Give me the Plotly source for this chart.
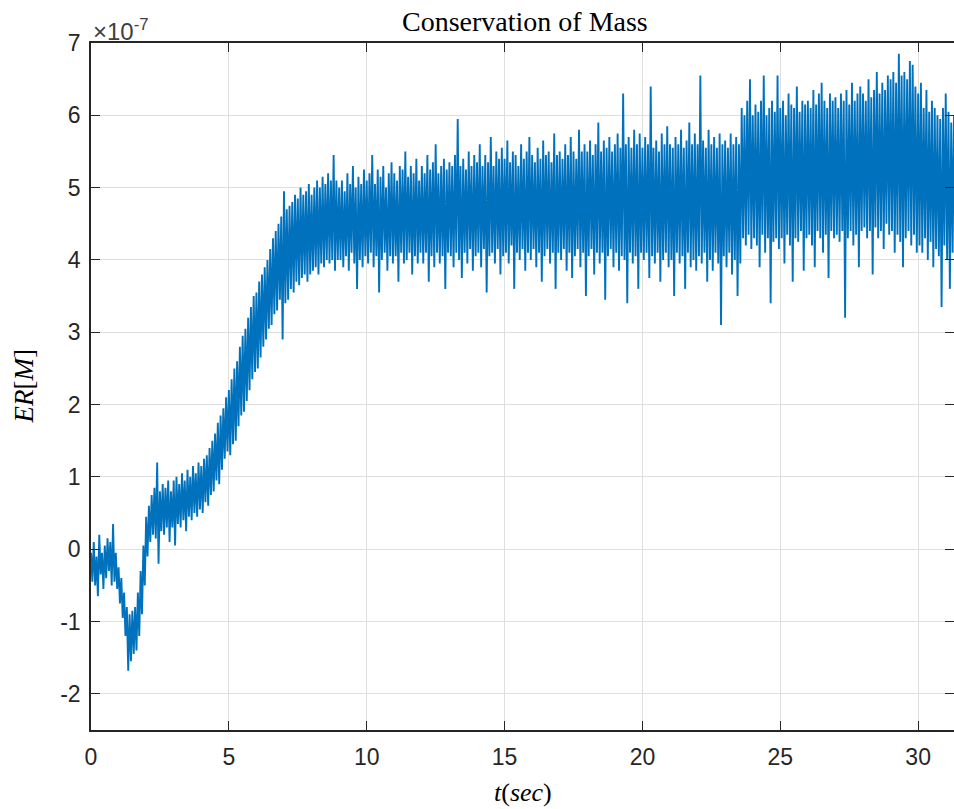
import numpy as np
import plotly.graph_objects as go

# Sample spacing of the recorded signal (seconds)
dt = 0.05

# ER[M] values in units of 1e-7, one list per second
er_s00 = [-0.05, -0.45, 0.1, -0.5, -0.1, -0.65, 0.2, -0.35, -0.05, -0.55, 0.05, -0.4, 0.15, -0.3, 0.1, -0.5, 0.35, -0.45, -0.05, -0.55]
er_s01 = [-0.25, -0.75, -0.4, -0.95, -0.6, -1.2, -0.8, -1.68, -0.9, -1.55, -0.85, -1.45, -0.8, -1.4, -0.6, -1.2, -0.3, -0.9, 0.05, -0.5]
er_s02 = [0.45, -0.1, 0.6, 0.1, 0.75, 0.2, 0.85, 0.15, 1.2, -0.2, 0.8, 0.25, 0.9, 0.2, 0.85, 0.3, 0.95, 0.1, 0.8, 0.3]
er_s03 = [0.95, 0.05, 1.0, 0.35, 0.9, 0.3, 1.05, 0.4, 0.95, 0.25, 1.1, 0.45, 1.0, 0.4, 1.15, 0.5, 1.05, 0.45, 1.2, 0.55]
er_s04 = [1.15, 0.5, 1.25, 0.65, 1.3, 0.6, 1.4, 0.75, 1.5, 0.8, 1.6, 0.95, 1.75, 0.9, 1.85, 1.1, 1.95, 1.25, 2.1, 1.35]
er_s05 = [2.2, 1.3, 2.35, 1.45, 2.5, 1.5, 2.6, 1.7, 2.8, 1.85, 2.95, 1.9, 3.05, 2.05, 3.2, 2.2, 3.35, 2.35, 3.5, 2.45]
er_s06 = [3.55, 2.5, 3.7, 2.65, 3.8, 2.8, 3.9, 2.9, 4.0, 3.05, 4.15, 3.1, 4.3, 3.25, 4.4, 3.3, 4.5, 3.45, 4.6, 2.9]
er_s07 = [4.95, 3.4, 4.7, 3.45, 4.75, 3.6, 4.8, 3.55, 4.9, 3.7, 4.85, 3.65, 5.0, 3.75, 4.9, 3.8, 4.95, 3.7, 5.05, 3.8]
er_s08 = [4.9, 3.85, 5.0, 3.9, 5.1, 3.8, 5.0, 3.95, 5.15, 3.9, 5.05, 4.0, 5.2, 3.95, 5.1, 4.0, 5.45, 3.85, 5.1, 4.0]
er_s09 = [5.0, 4.0, 5.1, 3.9, 4.95, 4.05, 5.2, 3.85, 5.05, 4.1, 5.3, 3.95, 5.0, 3.6, 5.15, 4.0, 5.05, 3.9, 5.25, 4.05]
er_s10 = [5.1, 3.95, 5.2, 4.1, 5.45, 3.9, 5.05, 4.05, 5.25, 3.55, 5.15, 4.0, 5.3, 4.1, 5.0, 3.85, 5.2, 4.05, 5.35, 3.95]
er_s11 = [5.2, 4.05, 5.1, 3.7, 5.3, 4.1, 5.25, 3.95, 5.5, 4.0, 5.15, 4.1, 5.3, 3.8, 5.2, 4.05, 5.4, 3.95, 5.1, 4.1]
er_s12 = [5.3, 3.95, 5.2, 4.1, 5.45, 3.7, 5.25, 4.05, 5.35, 3.9, 5.6, 4.1, 5.2, 3.95, 5.3, 4.05, 5.4, 3.6, 5.25, 4.1]
er_s13 = [5.35, 4.05, 5.3, 3.9, 5.45, 4.1, 5.95, 4.0, 5.3, 3.75, 5.4, 4.1, 5.25, 3.95, 5.5, 4.15, 5.3, 3.85, 5.45, 4.05]
er_s14 = [5.35, 4.1, 5.6, 3.9, 5.3, 4.15, 5.45, 3.55, 5.35, 4.05, 5.7, 4.1, 5.3, 3.95, 5.5, 4.15, 5.4, 3.8, 5.55, 4.05]
er_s15 = [5.4, 4.1, 5.65, 3.95, 5.35, 4.2, 5.5, 3.6, 5.45, 4.1, 5.3, 4.0, 5.6, 4.15, 5.4, 3.85, 5.5, 4.1, 5.7, 4.0]
er_s16 = [5.45, 4.15, 5.35, 3.9, 5.55, 4.1, 5.4, 3.7, 5.65, 4.05, 5.45, 4.15, 5.5, 3.95, 5.35, 4.1, 5.75, 3.6, 5.45, 4.1]
er_s17 = [5.5, 4.0, 5.4, 4.15, 5.6, 3.85, 5.45, 4.1, 5.7, 3.75, 5.5, 4.05, 5.4, 4.15, 5.8, 3.9, 5.5, 4.1, 5.6, 3.5]
er_s18 = [5.5, 4.05, 5.65, 4.15, 5.45, 3.8, 5.6, 4.1, 5.9, 3.95, 5.5, 4.1, 5.65, 3.45, 5.55, 4.05, 5.7, 4.15, 5.5, 3.9]
er_s19 = [5.6, 4.1, 5.75, 3.85, 5.55, 4.05, 6.3, 4.0, 5.6, 3.4, 5.7, 4.1, 5.55, 3.95, 5.8, 4.05, 5.6, 3.6, 5.75, 4.1]
er_s20 = [5.55, 4.0, 5.7, 4.1, 5.6, 3.75, 6.4, 4.05, 5.55, 3.95, 5.65, 4.1, 5.5, 3.7, 5.75, 4.0, 5.6, 4.1, 5.85, 3.9]
er_s21 = [5.6, 4.0, 5.55, 3.5, 5.7, 4.1, 5.6, 3.95, 5.8, 4.05, 5.55, 3.6, 5.65, 4.1, 5.9, 3.9, 5.6, 4.0, 5.75, 3.85]
er_s22 = [5.6, 4.05, 6.55, 3.95, 5.65, 4.1, 5.55, 3.7, 5.8, 4.0, 5.6, 3.85, 5.7, 4.1, 5.55, 3.95, 5.75, 3.1, 5.6, 4.05]
er_s23 = [5.65, 3.9, 5.55, 4.1, 5.75, 3.8, 5.6, 4.0, 5.7, 3.5, 5.6, 3.95, 6.1, 4.3, 6.0, 4.2, 6.2, 4.35, 6.5, 4.15]
er_s24 = [6.0, 4.3, 6.15, 4.2, 6.05, 3.9, 6.2, 4.35, 6.55, 4.1, 6.0, 4.3, 6.1, 3.4, 6.2, 4.25, 6.05, 4.3, 6.55, 4.15]
er_s25 = [6.1, 4.3, 6.2, 3.95, 6.0, 4.35, 6.3, 4.2, 6.15, 3.7, 6.1, 4.3, 6.4, 4.25, 6.05, 4.4, 6.2, 3.85, 6.15, 4.3]
er_s26 = [6.2, 4.35, 6.1, 4.2, 6.35, 3.9, 6.15, 4.4, 6.3, 4.3, 6.45, 4.1, 6.2, 4.35, 6.1, 3.75, 6.3, 4.4, 6.2, 4.3]
er_s27 = [6.25, 4.35, 6.1, 4.25, 6.3, 4.4, 6.2, 3.2, 6.35, 4.3, 6.15, 4.4, 6.45, 4.2, 6.2, 4.35, 6.3, 3.9, 6.4, 4.4]
er_s28 = [6.3, 4.45, 6.2, 4.3, 6.5, 4.4, 6.25, 3.8, 6.35, 4.45, 6.6, 4.3, 6.3, 4.4, 6.45, 4.15, 6.35, 4.5, 6.55, 4.35]
er_s29 = [6.5, 4.4, 6.6, 4.1, 6.45, 4.35, 6.85, 4.25, 6.55, 3.9, 6.6, 4.3, 6.5, 4.4, 6.75, 4.2, 6.7, 4.35, 6.4, 4.1]
er_s30 = [6.3, 4.2, 6.45, 4.1, 6.1, 4.3, 6.35, 4.0, 6.05, 4.25, 6.2, 3.9, 6.1, 4.15, 6.0, 4.05, 5.95, 3.35, 6.1, 4.2,
          6.3, 4.0, 6.05, 3.6, 5.9, 4.1, 6.0]

x_ticks = [0, 5, 10, 15, 20, 25, 30]
y_ticks = [-2, -1, 0, 1, 2, 3, 4, 5, 6, 7]

title_text = "Conservation of Mass"
xlabel_text = "<i>t</i>(<i>sec</i>)"
ylabel_text = "<i>ER</i>[<i>M</i>]"
exponent_text = "\u00d710<sup>-7</sup>"

segments = [er_s00, er_s01, er_s02, er_s03, er_s04, er_s05, er_s06, er_s07, er_s08, er_s09,
            er_s10, er_s11, er_s12, er_s13, er_s14, er_s15, er_s16, er_s17, er_s18, er_s19,
            er_s20, er_s21, er_s22, er_s23, er_s24, er_s25, er_s26, er_s27, er_s28, er_s29, er_s30]
er = np.concatenate([np.asarray(s, dtype=float) for s in segments])
t = np.arange(len(er)) * dt

axis_color = "#262626"
tick_font = dict(family="Liberation Sans, Arial, Helvetica, sans-serif", size=23, color=axis_color)
serif = "Liberation Serif, Times New Roman, serif"

fig = go.Figure(go.Scatter(x=t, y=er, mode="lines",
                           line=dict(color="#0072BD", width=1.9, simplify=False), hoverinfo="skip"))

fig.update_layout(
    width=954, height=809,
    margin=dict(l=91, r=0, t=43, b=79, pad=0),
    plot_bgcolor="white", paper_bgcolor="white",
    showlegend=False,
)

common = dict(ticks="inside", ticklen=9, tickwidth=1.3, tickcolor=axis_color,
              showline=True, linecolor=axis_color, linewidth=1.5,
              showgrid=True, gridcolor="#dfdfdf", gridwidth=1, zeroline=False,
              tickfont=tick_font)

fig.update_xaxes(range=[0, 31.3], tickvals=x_ticks, ticktext=[str(v) for v in x_ticks],
                 ticklabelstandoff=6, mirror="ticks", **common)
fig.update_yaxes(range=[-2.5, 7], tickvals=y_ticks, ticktext=[str(v) for v in y_ticks],
                 ticklabelstandoff=4, mirror=False, **common)

# Right-hand inward ticks at the cropped right edge (no visible frame line there)
fig.update_layout(yaxis2=dict(overlaying="y", side="right", matches="y", range=[-2.5, 7],
                              tickvals=y_ticks, ticks="inside", ticklen=9, tickwidth=1.3,
                              tickcolor=axis_color, showticklabels=False, showline=False,
                              showgrid=False, zeroline=False))
fig.add_trace(go.Scatter(x=[], y=[], yaxis="y2", showlegend=False, hoverinfo="skip"))

fig.add_annotation(text=title_text, xref="paper", yref="paper", x=0.5, y=1,
                   xanchor="center", yanchor="middle", yshift=22, xshift=2, showarrow=False,
                   font=dict(family=serif, size=28, color="#000000"))
fig.add_annotation(text=xlabel_text, xref="paper", yref="paper", x=0.5, y=0,
                   xanchor="center", yanchor="middle", yshift=-62, showarrow=False,
                   font=dict(family=serif, size=26, color="#000000"))
fig.add_annotation(text=ylabel_text, xref="paper", yref="paper", x=0, y=0.5,
                   xanchor="center", yanchor="middle", xshift=-68, textangle=-90, showarrow=False,
                   font=dict(family=serif, size=27, color="#000000"))
fig.add_annotation(text=exponent_text, xref="paper", yref="paper", x=0, y=1,
                   xanchor="left", yanchor="bottom", xshift=0, yshift=-4, showarrow=False,
                   font=dict(family="Liberation Sans, Arial, sans-serif", size=24, color="#404040"))

fig.write_html("out.html")
